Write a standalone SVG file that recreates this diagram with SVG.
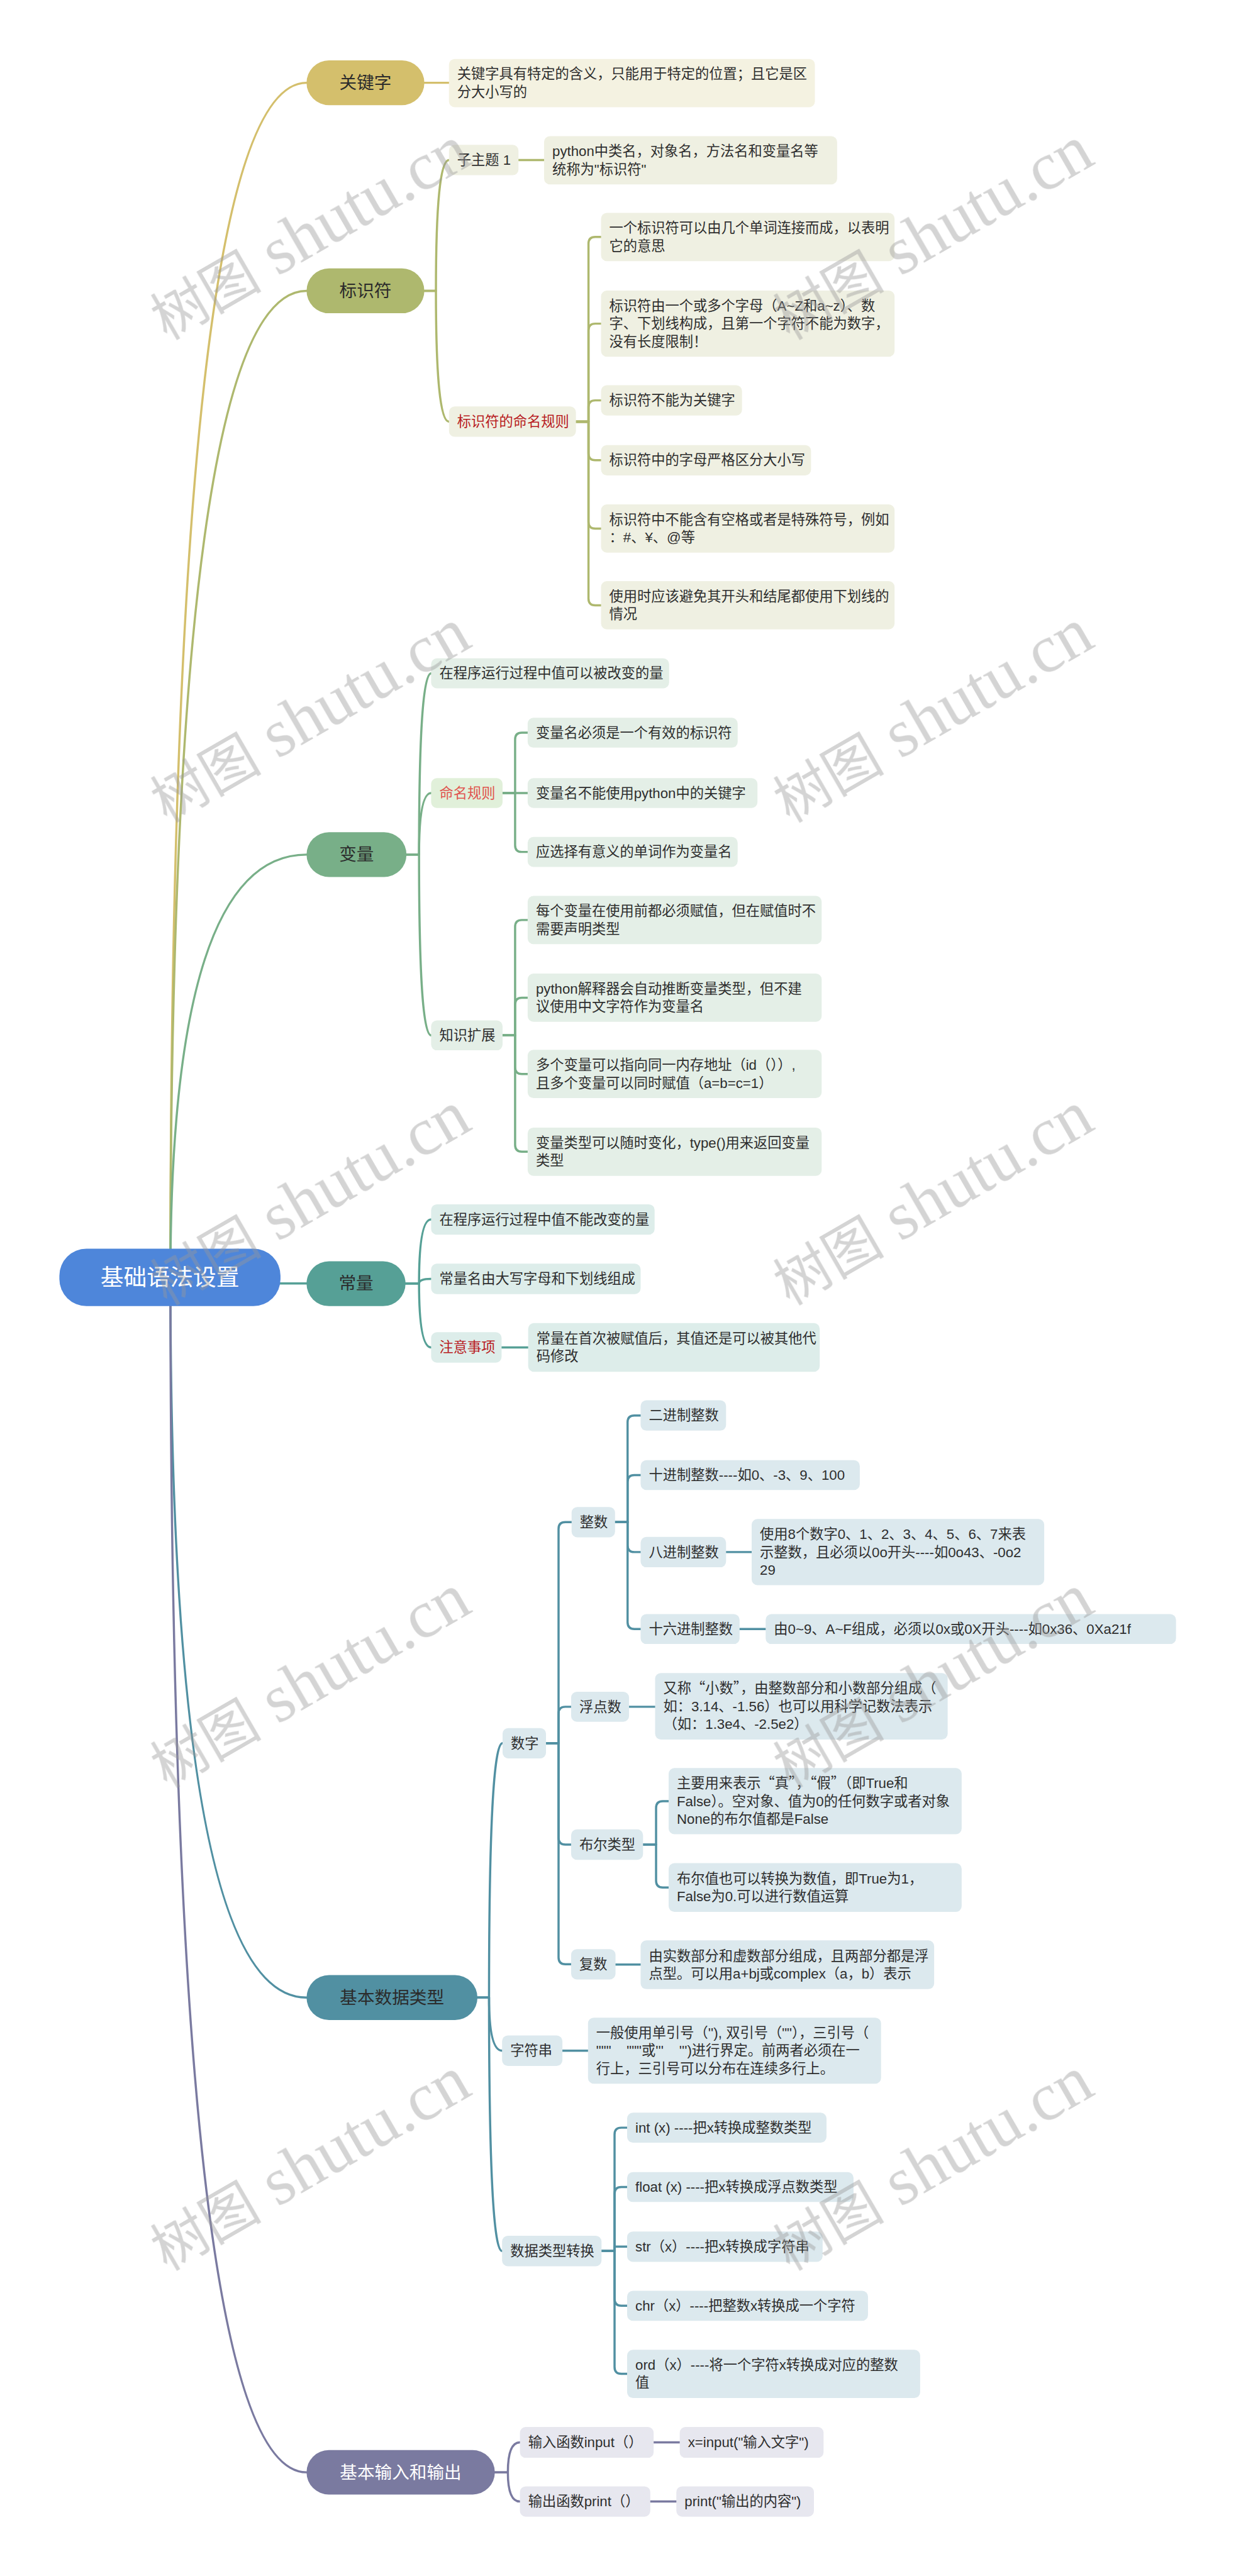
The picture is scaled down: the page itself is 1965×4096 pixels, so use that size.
<svg xmlns="http://www.w3.org/2000/svg" width="1965" height="4096" viewBox="0 0 1965 4096">
<style>
text{font-family:'Liberation Sans','Noto Sans CJK SC',sans-serif;font-size:29px;fill:#2e2e2e}
.q{font-family:'Noto Sans CJK SC',sans-serif}
.m{font-size:36px;text-anchor:middle;fill:#2b2b2b}
.w{fill:#ffffff}
.r{font-size:48px;text-anchor:middle;fill:#ffffff}
.red{fill:#b81c22}
.sal{fill:#e0544f}
.c path{fill:none;stroke-width:4.5;stroke-linecap:round;stroke-linejoin:round}
.s1{stroke:#d4bf6c}.s2{stroke:#aeb86e}.s3{stroke:#78af88}.s4{stroke:#56a096}.s5{stroke:#5190a2}.s6{stroke:#7a7aa0}
.b1{fill:#f4f2e1}.b2{fill:#eff0e2}.b3{fill:#e4efe7}.b4{fill:#ddedea}.b5{fill:#dce9ee}.b6{fill:#e7e7ef}
.wm text{font-family:'Liberation Serif','Noto Sans CJK SC',serif;font-size:115px;fill:#9a9a9a}
</style>
<rect x="0" y="0" width="1965" height="4096" fill="#ffffff"/>
<g transform="scale(0.7675)">
<g id="connectors" class="c">
<path class="s1" d="M353 2647 Q353 171.5 635 171.5"/>
<path class="s2" d="M353 2647 Q353 602.5 635 602.5"/>
<path class="s3" d="M353 2647 Q353 1770.5 635 1770.5"/>
<path class="s4" d="M353 2647 Q353 2659 635 2659"/>
<path class="s5" d="M353 2647 Q353 4138.5 635 4138.5"/>
<path class="s6" d="M353 2647 Q353 5122 635 5122"/>
<path class="s1" d="M879 171.5 H930"/>
<path class="s2" d="M879 602.5 H903 Q903 331.5 930 331.5"/>
<path class="s2" d="M879 602.5 H903 Q903 873.5 930 873.5"/>
<path class="s2" d="M1074 331.5 H1127"/>
<path class="s2" d="M1193 873.5 H1219 V505 Q1219 491 1233 491 H1245"/>
<path class="s2" d="M1193 873.5 H1219 V684.5 Q1219 670.5 1233 670.5 H1245"/>
<path class="s2" d="M1193 873.5 H1219 V843.5 Q1219 829.5 1233 829.5 H1245"/>
<path class="s2" d="M1193 873.5 H1219 V939.5 Q1219 953.5 1233 953.5 H1245"/>
<path class="s2" d="M1193 873.5 H1219 V1081 Q1219 1095 1233 1095 H1245"/>
<path class="s2" d="M1193 873.5 H1219 V1240 Q1219 1254 1233 1254 H1245"/>
<path class="s3" d="M841 1770.5 H868 Q868 1395 893 1395"/>
<path class="s3" d="M841 1770.5 H868 Q868 1643 893 1643"/>
<path class="s3" d="M841 1770.5 H868 Q868 2145 893 2145"/>
<path class="s3" d="M1041 1643 H1067 V1532 Q1067 1518 1081 1518 H1093"/>
<path class="s3" d="M1041 1643 H1093"/>
<path class="s3" d="M1041 1643 H1067 V1751 Q1067 1765 1081 1765 H1093"/>
<path class="s3" d="M1041 2145 H1067 V1920 Q1067 1906 1081 1906 H1093"/>
<path class="s3" d="M1041 2145 H1067 V2081 Q1067 2067 1081 2067 H1093"/>
<path class="s3" d="M1041 2145 H1067 V2211 Q1067 2225 1081 2225 H1093"/>
<path class="s3" d="M1041 2145 H1067 V2372 Q1067 2386 1081 2386 H1093"/>
<path class="s4" d="M840 2659 H868 Q868 2526.5 893 2526.5"/>
<path class="s4" d="M840 2659 H868 Q868 2649.5 893 2649.5"/>
<path class="s4" d="M840 2659 H868 Q868 2791.5 893 2791.5"/>
<path class="s4" d="M1039 2791.5 H1094"/>
<path class="s5" d="M989 4138.5 H1013 Q1013 3611.5 1041 3611.5"/>
<path class="s5" d="M989 4138.5 H1013 Q1013 4248.5 1040 4248.5"/>
<path class="s5" d="M989 4138.5 H1013 Q1013 4663.5 1040 4663.5"/>
<path class="s5" d="M1131 3611.5 H1157 V3167.5 Q1157 3153.5 1171 3153.5 H1184"/>
<path class="s5" d="M1131 3611.5 H1157 V3550 Q1157 3536 1171 3536 H1183"/>
<path class="s5" d="M1131 3611.5 H1157 V3807.5 Q1157 3821.5 1171 3821.5 H1183"/>
<path class="s5" d="M1131 3611.5 H1157 V4055.5 Q1157 4069.5 1171 4069.5 H1183"/>
<path class="s5" d="M1274 3153.5 H1300 V2946.5 Q1300 2932.5 1314 2932.5 H1327"/>
<path class="s5" d="M1274 3153.5 H1300 V3070 Q1300 3056 1314 3056 H1327"/>
<path class="s5" d="M1274 3153.5 H1300 V3201.5 Q1300 3215.5 1314 3215.5 H1327"/>
<path class="s5" d="M1274 3153.5 H1300 V3361 Q1300 3375 1314 3375 H1327"/>
<path class="s5" d="M1504 3215.5 H1557"/>
<path class="s5" d="M1532 3375 H1586"/>
<path class="s5" d="M1303 3536 H1357"/>
<path class="s5" d="M1332 3821.5 H1359 V3745.5 Q1359 3731.5 1373 3731.5 H1385"/>
<path class="s5" d="M1332 3821.5 H1359 V3896.5 Q1359 3910.5 1373 3910.5 H1385"/>
<path class="s5" d="M1275 4070 H1327"/>
<path class="s5" d="M1165 4248.5 H1218"/>
<path class="s5" d="M1246 4663.5 H1273 V4422 Q1273 4408 1287 4408 H1299"/>
<path class="s5" d="M1246 4663.5 H1273 V4545 Q1273 4531 1287 4531 H1299"/>
<path class="s5" d="M1246 4663.5 H1273 V4654.5 H1299"/>
<path class="s5" d="M1246 4663.5 H1273 V4763 Q1273 4777 1287 4777 H1299"/>
<path class="s5" d="M1246 4663.5 H1273 V4904 Q1273 4918 1287 4918 H1299"/>
<path class="s6" d="M1025 5122 H1052 Q1052 5060 1077 5060"/>
<path class="s6" d="M1025 5122 H1052 Q1052 5182.5 1077 5182.5"/>
<path class="s6" d="M1354 5060 H1408"/>
<path class="s6" d="M1347 5182.5 H1401"/>
</g>

<g id="root"><rect x="123" y="2587" width="458" height="119" rx="56" fill="#4e86da"/><text class="r" x="352" y="2663.5">基础语法设置</text></g>

<g id="n-keyword"><rect x="635" y="125" width="244" height="93" rx="46.5" fill="#d4bf6c"/><text class="m" x="757" y="184">关键字</text></g>
<g id="n-keyword-1"><rect class="b1" x="930" y="122" width="758" height="100" rx="12"/><text x="947" y="163.5">关键字具有特定的含义，只能用于特定的位置；且它是区</text><text x="947" y="200.5">分大小写的</text></g>

<g id="n-ident"><rect x="635" y="556" width="244" height="93" rx="46.5" fill="#aeb86e"/><text class="m" x="757" y="615">标识符</text></g>
<g id="n-ident-sub1"><rect class="b2" x="930" y="300" width="144" height="63" rx="12"/><text x="947" y="341.5">子主题 1</text></g>
<g id="n-ident-sub1-1"><rect class="b2" x="1127" y="282" width="607" height="100" rx="12"/><text x="1144" y="323.5">python中类名，对象名，方法名和变量名等</text><text x="1144" y="360.5">统称为"标识符"</text></g>
<g id="n-ident-rule"><rect class="b2" x="930" y="842" width="263" height="63" rx="12"/><text class="red" x="947" y="883.5">标识符的命名规则</text></g>
<g id="n-ident-rule-1"><rect class="b2" x="1245" y="441" width="608" height="100" rx="12"/><text x="1262" y="482.5">一个标识符可以由几个单词连接而成，以表明</text><text x="1262" y="519.5">它的意思</text></g>
<g id="n-ident-rule-2"><rect class="b2" x="1245" y="602" width="608" height="137" rx="12"/><text x="1262" y="643.5">标识符由一个或多个字母（A~Z和a~z）、数</text><text x="1262" y="680.5">字、下划线构成，且第一个字符不能为数字，</text><text x="1262" y="717.5">没有长度限制！</text></g>
<g id="n-ident-rule-3"><rect class="b2" x="1245" y="798" width="292" height="63" rx="12"/><text x="1262" y="839.5">标识符不能为关键字</text></g>
<g id="n-ident-rule-4"><rect class="b2" x="1245" y="922" width="435" height="63" rx="12"/><text x="1262" y="963.5">标识符中的字母严格区分大小写</text></g>
<g id="n-ident-rule-5"><rect class="b2" x="1245" y="1045" width="608" height="100" rx="12"/><text x="1262" y="1086.5">标识符中不能含有空格或者是特殊符号，例如</text><text x="1262" y="1123.5">：#、¥、@等</text></g>
<g id="n-ident-rule-6"><rect class="b2" x="1245" y="1204" width="608" height="100" rx="12"/><text x="1262" y="1245.5">使用时应该避免其开头和结尾都使用下划线的</text><text x="1262" y="1282.5">情况</text></g>

<g id="n-var"><rect x="635" y="1724" width="207" height="93" rx="46.5" fill="#78af88"/><text class="m" x="738.5" y="1783">变量</text></g>
<g id="n-var-1"><rect class="b3" x="893" y="1364" width="493" height="62" rx="12"/><text x="910" y="1405">在程序运行过程中值可以被改变的量</text></g>
<g id="n-var-rule"><rect x="893" y="1612" width="148" height="62" rx="12" fill="#e1f0da"/><text class="sal" x="910" y="1653">命名规则</text></g>
<g id="n-var-rule-1"><rect class="b3" x="1093" y="1487" width="435" height="62" rx="12"/><text x="1110" y="1528">变量名必须是一个有效的标识符</text></g>
<g id="n-var-rule-2"><rect class="b3" x="1093" y="1612" width="476" height="62" rx="12"/><text x="1110" y="1653">变量名不能使用python中的关键字</text></g>
<g id="n-var-rule-3"><rect class="b3" x="1093" y="1734" width="435" height="62" rx="12"/><text x="1110" y="1775">应选择有意义的单词作为变量名</text></g>
<g id="n-var-ext"><rect class="b3" x="893" y="2114" width="148" height="62" rx="12"/><text x="910" y="2155">知识扩展</text></g>
<g id="n-var-ext-1"><rect class="b3" x="1093" y="1856" width="609" height="100" rx="12"/><text x="1110" y="1897.5">每个变量在使用前都必须赋值，但在赋值时不</text><text x="1110" y="1934.5">需要声明类型</text></g>
<g id="n-var-ext-2"><rect class="b3" x="1093" y="2017" width="609" height="100" rx="12"/><text x="1110" y="2058.5">python解释器会自动推断变量类型，但不建</text><text x="1110" y="2095.5">议使用中文字符作为变量名</text></g>
<g id="n-var-ext-3"><rect class="b3" x="1093" y="2175" width="609" height="100" rx="12"/><text x="1110" y="2216.5">多个变量可以指向同一内存地址（id（））,</text><text x="1110" y="2253.5">且多个变量可以同时赋值（a=b=c=1）</text></g>
<g id="n-var-ext-4"><rect class="b3" x="1093" y="2336" width="609" height="100" rx="12"/><text x="1110" y="2377.5">变量类型可以随时变化，type()用来返回变量</text><text x="1110" y="2414.5">类型</text></g>

<g id="n-const"><rect x="635" y="2613" width="205" height="93" rx="46.5" fill="#56a096"/><text class="m" x="737.5" y="2671.5">常量</text></g>
<g id="n-const-1"><rect class="b4" x="893" y="2495" width="463" height="63" rx="12"/><text x="910" y="2536.5">在程序运行过程中值不能改变的量</text></g>
<g id="n-const-2"><rect class="b4" x="893" y="2618" width="434" height="63" rx="12"/><text x="910" y="2659.5">常量名由大写字母和下划线组成</text></g>
<g id="n-const-note"><rect class="b4" x="893" y="2760" width="146" height="63" rx="12"/><text class="red" x="910" y="2801.5">注意事项</text></g>
<g id="n-const-note-1"><rect class="b4" x="1094" y="2741" width="604" height="101" rx="12"/><text x="1111" y="2783">常量在首次被赋值后，其值还是可以被其他代</text><text x="1111" y="2820">码修改</text></g>

<g id="n-type"><rect x="635" y="4092" width="354" height="93" rx="46.5" fill="#5190a2"/><text class="m" x="812" y="4151">基本数据类型</text></g>
<g id="n-num"><rect class="b5" x="1041" y="3580" width="90" height="63" rx="12"/><text x="1058" y="3621.5">数字</text></g>
<g id="n-int"><rect class="b5" x="1184" y="3122" width="90" height="63" rx="12"/><text x="1201" y="3163.5">整数</text></g>
<g id="n-int-bin"><rect class="b5" x="1327" y="2901" width="177" height="63" rx="12"/><text x="1344" y="2942.5">二进制整数</text></g>
<g id="n-int-dec"><rect class="b5" x="1327" y="3025" width="454" height="62" rx="12"/><text x="1344" y="3066">十进制整数----如0、-3、9、100</text></g>
<g id="n-int-oct"><rect class="b5" x="1327" y="3184" width="177" height="63" rx="12"/><text x="1344" y="3225.5">八进制整数</text></g>
<g id="n-int-oct-1"><rect class="b5" x="1557" y="3147" width="606" height="137" rx="12"/><text x="1574" y="3188.5">使用8个数字0、1、2、3、4、5、6、7来表</text><text x="1574" y="3225.5">示整数，且必须以0o开头----如0o43、-0o2</text><text x="1574" y="3262.5">29</text></g>
<g id="n-int-hex"><rect class="b5" x="1327" y="3344" width="205" height="62" rx="12"/><text x="1344" y="3385">十六进制整数</text></g>
<g id="n-int-hex-1"><rect class="b5" x="1586" y="3344" width="850" height="62" rx="12"/><text x="1603" y="3385">由0~9、A~F组成，必须以0x或0X开头----如0x36、0Xa21f</text></g>
<g id="n-float"><rect class="b5" x="1183" y="3505" width="120" height="62" rx="12"/><text x="1200" y="3546">浮点数</text></g>
<g id="n-float-1"><rect class="b5" x="1357" y="3466" width="606" height="138" rx="12"/><text x="1374" y="3508">又称<tspan class="q">“</tspan>小数<tspan class="q">”</tspan>，由整数部分和小数部分组成（</text><text x="1374" y="3545">如：3.14、-1.56）也可以用科学记数法表示</text><text x="1374" y="3582">（如：1.3e4、-2.5e2）</text></g>
<g id="n-bool"><rect class="b5" x="1183" y="3790" width="149" height="63" rx="12"/><text x="1200" y="3831.5">布尔类型</text></g>
<g id="n-bool-1"><rect class="b5" x="1385" y="3663" width="607" height="137" rx="12"/><text x="1402" y="3704.5">主要用来表示<tspan class="q">“</tspan>真<tspan class="q">”</tspan>，<tspan class="q">“</tspan>假<tspan class="q">”</tspan>（即True和</text><text x="1402" y="3741.5">False）。空对象、值为0的任何数字或者对象</text><text x="1402" y="3778.5">None的布尔值都是False</text></g>
<g id="n-bool-2"><rect class="b5" x="1385" y="3860" width="607" height="101" rx="12"/><text x="1402" y="3902">布尔值也可以转换为数值，即True为1，</text><text x="1402" y="3939">False为0.可以进行数值运算</text></g>
<g id="n-complex"><rect class="b5" x="1183" y="4038" width="92" height="63" rx="12"/><text x="1200" y="4079.5">复数</text></g>
<g id="n-complex-1"><rect class="b5" x="1327" y="4020" width="608" height="101" rx="12"/><text x="1344" y="4062">由实数部分和虚数部分组成，且两部分都是浮</text><text x="1344" y="4099">点型。可以用a+bj或complex（a，b）表示</text></g>
<g id="n-str"><rect class="b5" x="1040" y="4217" width="125" height="63" rx="12"/><text x="1057" y="4258.5">字符串</text></g>
<g id="n-str-1"><rect class="b5" x="1218" y="4180" width="607" height="137" rx="12"/><text x="1235" y="4221.5">一般使用单引号（''), 双引号（""），三引号（</text><text x="1235" y="4258.5" xml:space="preserve">"""    """或'''    ''')进行界定。前两者必须在一</text><text x="1235" y="4295.5">行上，三引号可以分布在连续多行上。</text></g>
<g id="n-conv"><rect class="b5" x="1040" y="4632" width="206" height="63" rx="12"/><text x="1057" y="4673.5">数据类型转换</text></g>
<g id="n-conv-int"><rect class="b5" x="1299" y="4377" width="413" height="62" rx="12"/><text x="1316" y="4418">int (x) ----把x转换成整数类型</text></g>
<g id="n-conv-float"><rect class="b5" x="1299" y="4500" width="469" height="62" rx="12"/><text x="1316" y="4541">float (x) ----把x转换成浮点数类型</text></g>
<g id="n-conv-str"><rect class="b5" x="1299" y="4623" width="405" height="63" rx="12"/><text x="1316" y="4664.5">str（x）----把x转换成字符串</text></g>
<g id="n-conv-chr"><rect class="b5" x="1299" y="4746" width="499" height="62" rx="12"/><text x="1316" y="4787">chr（x）----把整数x转换成一个字符</text></g>
<g id="n-conv-ord"><rect class="b5" x="1299" y="4868" width="607" height="100" rx="12"/><text x="1316" y="4909.5">ord（x）----将一个字符x转换成对应的整数</text><text x="1316" y="4946.5">值</text></g>

<g id="n-io"><rect x="635" y="5076" width="390" height="92" rx="46" fill="#7a7aa0"/><text class="m w" x="830" y="5134.5">基本输入和输出</text></g>
<g id="n-io-in"><rect class="b6" x="1077" y="5028" width="277" height="64" rx="12"/><text x="1094" y="5070">输入函数input（）</text></g>
<g id="n-io-in-1"><rect class="b6" x="1408" y="5028" width="298" height="64" rx="12"/><text x="1425" y="5070">x=input("输入文字")</text></g>
<g id="n-io-out"><rect class="b6" x="1077" y="5151" width="270" height="63" rx="12"/><text x="1094" y="5192.5">输出函数print（）</text></g>
<g id="n-io-out-1"><rect class="b6" x="1401" y="5151" width="285" height="63" rx="12"/><text x="1418" y="5192.5">print("输出的内容")</text></g>

<g id="watermark" class="wm" opacity="0.42">
<text transform="translate(345 705) rotate(-30)">树图<tspan font-size="140"> shutu.cn</tspan></text>
<text transform="translate(1635 705) rotate(-30)">树图<tspan font-size="140"> shutu.cn</tspan></text>
<text transform="translate(345 1705) rotate(-30)">树图<tspan font-size="140"> shutu.cn</tspan></text>
<text transform="translate(1635 1705) rotate(-30)">树图<tspan font-size="140"> shutu.cn</tspan></text>
<text transform="translate(345 2705) rotate(-30)">树图<tspan font-size="140"> shutu.cn</tspan></text>
<text transform="translate(1635 2705) rotate(-30)">树图<tspan font-size="140"> shutu.cn</tspan></text>
<text transform="translate(345 3705) rotate(-30)">树图<tspan font-size="140"> shutu.cn</tspan></text>
<text transform="translate(1635 3705) rotate(-30)">树图<tspan font-size="140"> shutu.cn</tspan></text>
<text transform="translate(345 4705) rotate(-30)">树图<tspan font-size="140"> shutu.cn</tspan></text>
<text transform="translate(1635 4705) rotate(-30)">树图<tspan font-size="140"> shutu.cn</tspan></text>
</g>
</g>
</svg>
